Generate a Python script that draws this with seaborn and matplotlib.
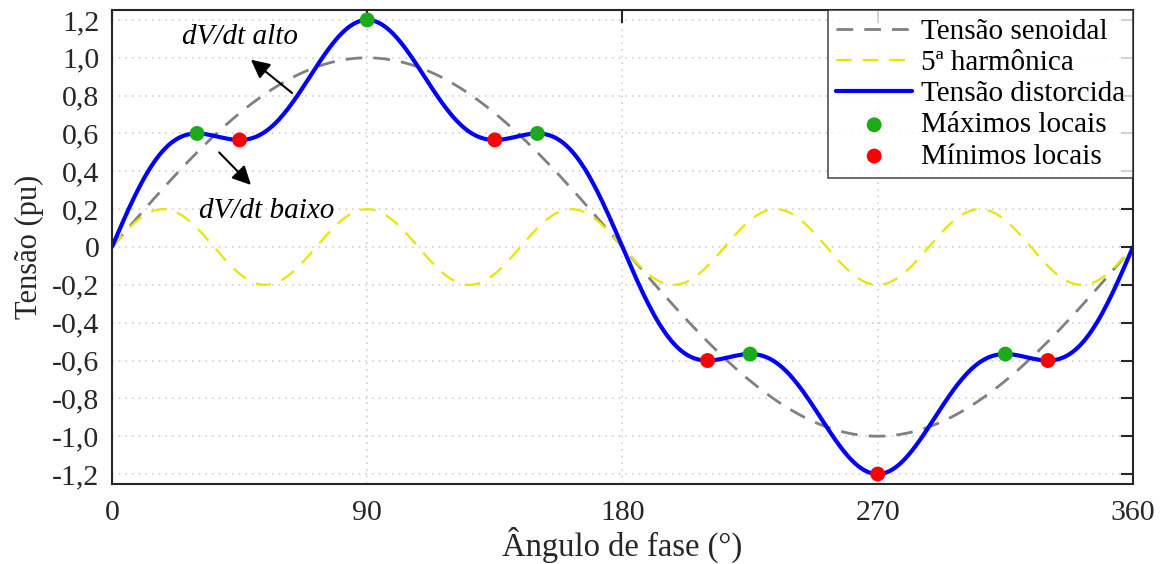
import matplotlib
matplotlib.use("Agg")
import matplotlib.pyplot as plt
import seaborn as sns
import pandas as pd

# ---- data ----
# quarter-wave samples (0..90 degrees, 1 degree step); the waves have
# half-wave symmetry about 90 deg and odd symmetry about 180 deg
quarter_angle = list(range(0, 91))

sinusoid_quarter = [
    0.0000, 0.0175, 0.0349, 0.0523, 0.0698, 0.0872, 0.1045, 0.1219, 0.1392, 0.1564,
    0.1736, 0.1908, 0.2079, 0.2250, 0.2419, 0.2588, 0.2756, 0.2924, 0.3090, 0.3256,
    0.3420, 0.3584, 0.3746, 0.3907, 0.4067, 0.4226, 0.4384, 0.4540, 0.4695, 0.4848,
    0.5000, 0.5150, 0.5299, 0.5446, 0.5592, 0.5736, 0.5878, 0.6018, 0.6157, 0.6293,
    0.6428, 0.6561, 0.6691, 0.6820, 0.6947, 0.7071, 0.7193, 0.7314, 0.7431, 0.7547,
    0.7660, 0.7771, 0.7880, 0.7986, 0.8090, 0.8192, 0.8290, 0.8387, 0.8480, 0.8572,
    0.8660, 0.8746, 0.8829, 0.8910, 0.8988, 0.9063, 0.9135, 0.9205, 0.9272, 0.9336,
    0.9397, 0.9455, 0.9511, 0.9563, 0.9613, 0.9659, 0.9703, 0.9744, 0.9781, 0.9816,
    0.9848, 0.9877, 0.9903, 0.9925, 0.9945, 0.9962, 0.9976, 0.9986, 0.9994, 0.9998,
    1.0000]

harmonic5_quarter = [
    0.0000, 0.0174, 0.0347, 0.0518, 0.0684, 0.0845, 0.1000, 0.1147, 0.1286, 0.1414,
    0.1532, 0.1638, 0.1732, 0.1813, 0.1879, 0.1932, 0.1970, 0.1992, 0.2000, 0.1992,
    0.1970, 0.1932, 0.1879, 0.1813, 0.1732, 0.1638, 0.1532, 0.1414, 0.1286, 0.1147,
    0.1000, 0.0845, 0.0684, 0.0518, 0.0347, 0.0174,
    0.0000, -0.0174, -0.0347, -0.0518, -0.0684, -0.0845, -0.1000, -0.1147, -0.1286, -0.1414,
    -0.1532, -0.1638, -0.1732, -0.1813, -0.1879, -0.1932, -0.1970, -0.1992, -0.2000, -0.1992,
    -0.1970, -0.1932, -0.1879, -0.1813, -0.1732, -0.1638, -0.1532, -0.1414, -0.1286, -0.1147,
    -0.1000, -0.0845, -0.0684, -0.0518, -0.0347, -0.0174,
    0.0000, 0.0174, 0.0347, 0.0518, 0.0684, 0.0845, 0.1000, 0.1147, 0.1286, 0.1414,
    0.1532, 0.1638, 0.1732, 0.1813, 0.1879, 0.1932, 0.1970, 0.1992, 0.2000]

max_angle = [30, 90, 150, 225, 315]
max_value = [0.600, 1.200, 0.600, -0.566, -0.566]
min_angle = [45, 135, 210, 270, 330]
min_value = [0.566, 0.566, -0.600, -1.200, -0.600]

x_ticks = [0, 90, 180, 270, 360]
y_ticks = [-1.2, -1.0, -0.8, -0.6, -0.4, -0.2, 0, 0.2, 0.4, 0.6, 0.8, 1.0, 1.2]
y_ticklabels = ["-1,2", "-1,0", "-0,8", "-0,6", "-0,4", "-0,2", "0",
                "0,2", "0,4", "0,6", "0,8", "1,0", "1,2"]

labels = ["Tensão senoidal", "5ª harmônica", "Tensão distorcida",
          "Máximos locais", "Mínimos locais"]


def full_wave(q):
    half = list(q) + list(q[-2::-1])          # mirror about 90 deg
    return half + [-v for v in half[1:]]      # odd about 180 deg


angle = list(range(0, 361))
sinusoid = full_wave(sinusoid_quarter)
harmonic5 = full_wave(harmonic5_quarter)
df = pd.DataFrame({"angle": angle, "sin": sinusoid, "h5": harmonic5})
df["dist"] = df["sin"] + df["h5"]

# ---- style ----
sns.set_theme(style="white")
plt.rcParams["font.family"] = ["Liberation Serif", "DejaVu Serif"]

fig = plt.figure(figsize=(11.65, 5.64), dpi=100)
ax = fig.add_axes([0.0961, 0.1427, 0.8764, 0.8387])

sns.lineplot(data=df, x="angle", y="sin", ax=ax, color="#808080", lw=2.0,
             label=labels[0])
ax.lines[-1].set_dashes([6, 4])
sns.lineplot(data=df, x="angle", y="h5", ax=ax, color="#e6e600", lw=1.6,
             label=labels[1])
ax.lines[-1].set_dashes([7, 5])
sns.lineplot(data=df, x="angle", y="dist", ax=ax, color="#0000ff", lw=3.0,
             label=labels[2])

sns.scatterplot(x=max_angle, y=max_value, ax=ax, color="#1aaa1a", s=115,
                edgecolor="none", label=labels[3], zorder=5)
sns.scatterplot(x=min_angle, y=min_value, ax=ax, color="#ff0000", s=115,
                edgecolor="none", label=labels[4], zorder=5)

ax.set_xlim(0, 360)
ax.set_ylim(-1.25, 1.25)
ax.set_xticks(x_ticks)
ax.set_xticklabels([str(t) for t in x_ticks])
ax.set_yticks(y_ticks)
ax.set_yticklabels(y_ticklabels)

ax.grid(True, color="#d0d0d0", linestyle=(0, (1, 3)), linewidth=1.2)
for s in ax.spines.values():
    s.set_color("#262626")
    s.set_linewidth(1.5)
ax.tick_params(direction="in", length=9, width=1.5, colors="#262626",
               labelsize=21.5, top=True, right=True)
ax.tick_params(axis="x", pad=12)
ax.tick_params(axis="y", pad=9)

ax.set_xlabel("Ângulo de fase (°)", fontsize=23.5, color="#262626", labelpad=0.5)
ax.set_ylabel("Tensão (pu)", fontsize=22, color="#262626", labelpad=6)

# annotations
ax.text(45.2, 1.11, "dV/dt alto", fontsize=21, style="italic", ha="center",
        va="center", color="black")
ax.text(54.7, 0.19, "dV/dt baixo", fontsize=21, style="italic", ha="center",
        va="center", color="black")
ax.annotate("", xy=(49, 0.99), xytext=(63.5, 0.814),
            arrowprops=dict(arrowstyle="-|>", color="black", lw=1.5,
                            mutation_scale=28, shrinkA=0, shrinkB=0))
ax.annotate("", xy=(49, 0.328), xytext=(37.8, 0.50),
            arrowprops=dict(arrowstyle="-|>", color="black", lw=1.5,
                            mutation_scale=28, shrinkA=0, shrinkB=0))

leg = ax.legend(loc="upper right", fontsize=21, frameon=True, fancybox=False,
                borderaxespad=0, labelspacing=0.165, handlelength=2.6,
                handletextpad=0.3, borderpad=0.27)
leg.get_frame().set_edgecolor("#262626")
leg.get_frame().set_linewidth(1.2)
for t in leg.get_texts():
    t.set_color("black")

fig.savefig("out.png", dpi=100)
